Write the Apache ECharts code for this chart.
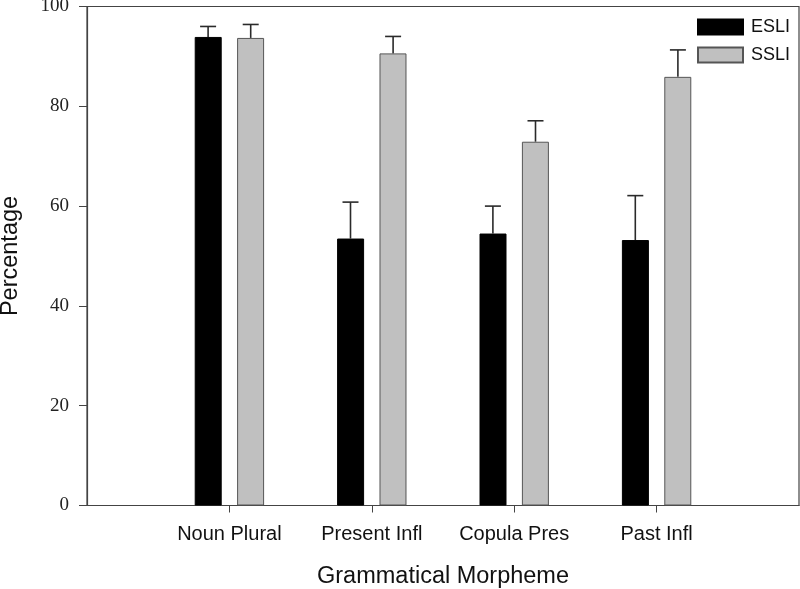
<!DOCTYPE html>
<html>
<head>
<meta charset="utf-8">
<script src="https://cdn.jsdelivr.net/npm/echarts@6/dist/echarts.min.js"></script>
<style>
  html, body { margin: 0; padding: 0; background: #fff; }
  #chart { width: 800px; height: 589px; }
</style>
</head>
<body>
<div id="chart"></div>
<script>
// categories along the x axis (padded with blanks at both ends)
var categories = ['Noun Plural', 'Present Infl', 'Copula Pres', 'Past Infl']
var esliValues = [93.9, 53.5, 54.5, 53.2]
var esliErr = [2.1, 7.3, 5.5, 8.9]
var ssliValues = [93.7, 90.6, 72.9, 85.9]
var ssliErr = [2.7, 3.4, 4.2, 5.4]
var yTicks = [0, 20, 40, 60, 80, 100]

function pad(arr) {
    return [null].concat(arr).concat([null])
}

var axisCats = pad(categories).map(function (c) { return c === null ? '' : c })

function errData(vals, errs) {
    return vals.map(function (v, i) { return [i + 1, v, v + errs[i]] })
}

var offset = 21.3
function errRender(shift) {
    return function (params, api) {
        var base = api.coord([api.value(0), api.value(1)])
        var top = api.coord([api.value(0), api.value(2)])
        var x = base[0] + shift
        var style = { stroke: '#2a2a2a', lineWidth: 1.6 }
        return {
            type: 'group',
            children: [
                { type: 'line', shape: { x1: x, y1: base[1], x2: x, y2: top[1] }, style: style },
                { type: 'line', shape: { x1: x - 8, y1: top[1], x2: x + 8, y2: top[1] }, style: style }
            ]
        }
    }
}

var echart = echarts.init(document.getElementById('chart'))

var option = {
    backgroundColor: '#fff',
    animation: false,
    grid: {
        left: 87, right: 1, top: 6.5, bottom: 83.5,
        outerBoundsMode: 'none',
        containLabel: false,
        show: true, borderColor: '#444', borderWidth: 1.2
    },
    legend: {
        orient: 'vertical',
        left: 697, top: 18,
        padding: 0,
        itemWidth: 45, itemHeight: 15, itemGap: 10,
        textStyle: { fontFamily: 'Liberation Sans', fontSize: 18, color: '#111', padding: [0, 0, 0, 3] },
        data: [
            { name: 'ESLI', icon: 'rect' },
            { name: 'SSLI', icon: 'rect' }
        ]
    },
    xAxis: {
        type: 'category',
        data: axisCats,
        boundaryGap: false,
        name: 'Grammatical Morpheme',
        nameLocation: 'middle',
        nameGap: 59,
        nameTextStyle: { fontFamily: 'Liberation Sans', fontSize: 23.5, color: '#111' },
        axisLine: { lineStyle: { color: '#444', width: 1.2 } },
        axisTick: {
            length: 7,
            lineStyle: { color: '#444' },
            interval: function (i, v) { return v !== '' }
        },
        axisLabel: {
            interval: 0,
            margin: 19,
            fontFamily: 'Liberation Sans', fontSize: 20, color: '#111'
        },
        splitLine: { show: false }
    },
    yAxis: {
        type: 'value',
        min: yTicks[0], max: yTicks[yTicks.length - 1], interval: 20,
        name: 'Percentage',
        nameLocation: 'middle',
        nameGap: 64,
        nameTextStyle: { fontFamily: 'Liberation Sans', fontSize: 23.5, color: '#111' },
        axisLine: { show: true, lineStyle: { color: '#444', width: 1.2 } },
        axisTick: { show: true, length: 8, lineStyle: { color: '#444' } },
        axisLabel: { margin: 18, fontFamily: 'Liberation Serif', fontSize: 19, color: '#222' },
        splitLine: { show: false }
    },
    series: [
        {
            name: 'ESLI', type: 'bar',
            data: pad(esliValues),
            barWidth: 27, barGap: '57%',
            itemStyle: { color: '#000', borderColor: '#000', borderWidth: 1 }
        },
        {
            name: 'SSLI', type: 'bar',
            data: pad(ssliValues),
            barWidth: 27, barGap: '57%',
            itemStyle: { color: '#c0c0c0', borderColor: '#555', borderWidth: 1 }
        },
        {
            type: 'custom', name: 'ESLI err',
            data: errData(esliValues, esliErr),
            renderItem: errRender(-offset),
            z: 1
        },
        {
            type: 'custom', name: 'SSLI err',
            data: errData(ssliValues, ssliErr),
            renderItem: errRender(offset),
            z: 1
        }
    ]
}

echart.setOption(option)
</script>
</body>
</html>
